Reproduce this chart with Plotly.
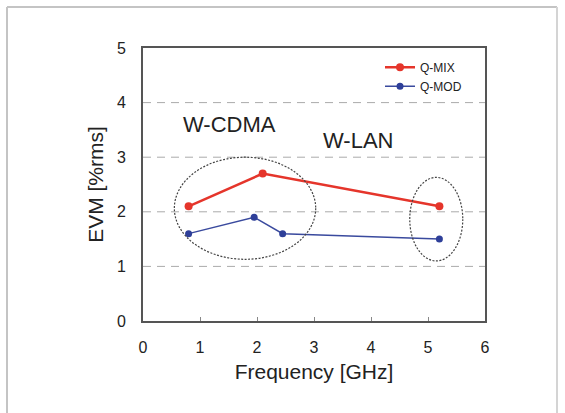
import plotly.graph_objects as go

# Data
mix_freq = [0.8, 2.1, 5.2]
mix_evm = [2.1, 2.7, 2.1]
mod_freq = [0.8, 1.95, 2.45, 5.2]
mod_evm = [1.6, 1.9, 1.6, 1.5]
x_ticks = [0, 1, 2, 3, 4, 5, 6]
y_ticks = [0, 1, 2, 3, 4, 5]
grid_levels = [1, 2, 3, 4]
band_labels = ["W-CDMA", "W-LAN"]
band_label_pos = [(1.52, 3.59), (3.78, 3.30)]
ellipses = [(0.55, 1.13, 3.03, 3.0), (4.68, 1.10, 5.61, 2.63)]

FONT = "Liberation Sans, Arial, sans-serif"

fig = go.Figure()
fig.add_trace(go.Scatter(x=mix_freq, y=mix_evm, mode="lines+markers", name="Q-MIX",
                         line=dict(color="#e5352b", width=2.5),
                         marker=dict(color="#e5352b", size=8)))
fig.add_trace(go.Scatter(x=mod_freq, y=mod_evm, mode="lines+markers", name="Q-MOD",
                         line=dict(color="#3a4a9e", width=1.5),
                         marker=dict(color="#2e3f99", size=7)))

shapes = []
for g in grid_levels:
    shapes.append(dict(type="line", xref="x", yref="y", x0=0, x1=6, y0=g, y1=g,
                       line=dict(color="#aaaaaa", width=1, dash="8px,6px"), layer="below"))
for (x0, y0, x1, y1) in ellipses:
    shapes.append(dict(type="circle", xref="x", yref="y", x0=x0, y0=y0, x1=x1, y1=y1,
                       line=dict(color="#444444", width=1.2, dash="2px,1.5px")))
# outer frame of the figure (left, top, right)
L = 143; R = 485; T = 48; B = 321
def px(v):
    return (v - L) / (R - L)
def py(v):
    return (B - v) / (B - T)
shapes.append(dict(type="line", xref="paper", yref="paper", x0=px(7), x1=px(7), y0=py(7), y1=py(413),
                   line=dict(color="#c4c4c4", width=2)))
shapes.append(dict(type="line", xref="paper", yref="paper", x0=px(7), x1=px(557), y0=py(7), y1=py(7),
                   line=dict(color="#c4c4c4", width=2)))
shapes.append(dict(type="line", xref="paper", yref="paper", x0=px(557), x1=px(557), y0=py(7), y1=py(413),
                   line=dict(color="#d4d4d4", width=2)))

annotations = []
for t, (ax, ay) in zip(band_labels, band_label_pos):
    annotations.append(dict(x=ax, y=ay, xref="x", yref="y", text=t, showarrow=False,
                            font=dict(family=FONT, size=22, color="#222222")))

fig.update_layout(
    width=565, height=413,
    margin=dict(l=L, r=565 - R, t=T, b=413 - B, autoexpand=False),
    paper_bgcolor="white", plot_bgcolor="white",
    shapes=shapes, annotations=annotations,
    showlegend=True,
    legend=dict(x=0.693, y=0.983, xanchor="left", yanchor="top",
                bgcolor="rgba(0,0,0,0)", font=dict(family=FONT, size=12, color="#222222"),
                tracegroupgap=0),
    font=dict(family=FONT, color="#222222"),
)
fig.update_xaxes(range=[0, 6], tickvals=x_ticks, showgrid=False, zeroline=False, automargin=False,
                 showline=True, mirror=True, linecolor="#555555", linewidth=2,
                 ticks="inside", ticklen=4, tickcolor="#888888", ticklabelstandoff=11,
                 tickfont=dict(family=FONT, size=16, color="#222222"),
                 title=dict(text="Frequency [GHz]", font=dict(family=FONT, size=21, color="#222222"), standoff=9))
fig.update_yaxes(range=[0, 5], tickvals=y_ticks, showgrid=False, zeroline=False, automargin=False,
                 showline=True, mirror=True, linecolor="#555555", linewidth=2,
                 ticks="", ticklabelstandoff=12,
                 tickfont=dict(family=FONT, size=16, color="#222222"),
                 title=dict(text="EVM [%rms]", font=dict(family=FONT, size=21, color="#222222"), standoff=8))

fig.write_html("out.html", config={"displayModeBar": False},
               post_script="document.body.style.margin='0';")
